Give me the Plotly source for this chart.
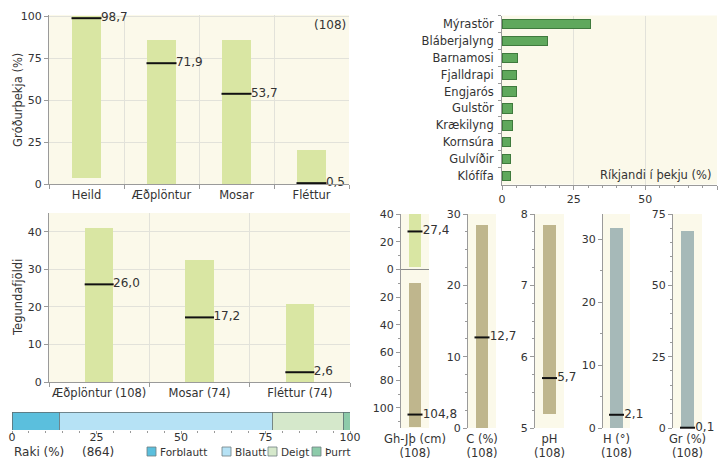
import plotly.graph_objects as go

W, H = 723, 461

# ---------------- data ----------------
cover_cats = ["Heild", "Æðplöntur", "Mosar", "Fléttur"]
cover_low = [3.5, 0, 0, 0]
cover_high = [100, 86, 86, 20]
cover_median = [98.7, 71.9, 53.7, 0.5]
cover_n = 108

dom_species = ["Mýrastör", "Bláberjalyng", "Barnamosi", "Fjalldrapi", "Engjarós",
               "Gulstör", "Krækilyng", "Kornsúra", "Gulvíðir", "Klófífa"]
dom_values = [31.0, 15.8, 5.3, 5.0, 5.0, 3.8, 3.6, 3.0, 3.0, 2.8]

rich_cats = ["Æðplöntur (108)", "Mosar (74)", "Fléttur (74)"]
rich_low = [0, 0, 0]
rich_high = [41.0, 32.5, 20.8]
rich_median = [26.0, 17.2, 2.6]

moist_cats = ["Forblautt", "Blautt", "Deigt", "Þurrt"]
moist_values = [14, 63, 21, 2]
moist_n = 864

gh_low, gh_high, gh_median = 2, 40, 27.4          # gróðurhæð (cm, above ground)
jth_low, jth_high, jth_median = 10, 114, 104.8    # jarðvegsþykkt (cm, below ground)
soil_labels = ["Gh-Jþ (cm)", "C (%)", "pH", "H (°)", "Gr (%)"]
soil_n = [108, 108, 108, 108, 108]
soil_low = [None, 0, 5.2, 0, 0]
soil_high = [None, 28.4, 7.85, 31.7, 69.0]
soil_median = [None, 12.7, 5.7, 2.1, 0.1]

# ---------------- styling ----------------
CREAM = "#FBF9EA"
LGREEN = "#D9E6A3"
KHAKI = "#BFB68D"
GREYBLUE = "#A6B9B8"
DGREEN = "#5FA85C"
MOIST_COLORS = ["#5BBFDD", "#B6E2F5", "#D5E8CB", "#8DCBAA"]
GRID = "#E2E2DA"
AXL = "#9A9A9A"
TXT = "#333333"
FONT = "DejaVu Sans"
LINE_K = 1.4  # plotly draws 'line-ew' markers 1.4 * size long


def fmt(v):
    return f"{v:.1f}".replace(".", ",")


def xd(a, b):
    return [a / W, b / W]


def yd(top, bottom):
    return [1 - bottom / H, 1 - top / H]


fig = go.Figure()
layout = dict(
    width=W, height=H, margin=dict(l=0, r=0, t=0, b=0, pad=0, autoexpand=False),
    paper_bgcolor="white", plot_bgcolor=CREAM, showlegend=False,
    barmode="stack", font=dict(family=FONT, size=11, color=TXT),
    annotations=[], shapes=[],
)

num_tick = dict(family=FONT, size=11, color=TXT)
cat_tick = dict(family=FONT, size=11.5, color=TXT)
lab_font = dict(family=FONT, size=12, color=TXT)


def median_marker(px):
    return dict(symbol="line-ew", size=px / LINE_K, line=dict(width=2, color="#111"))


# ---------- panel 1: cover ----------
fig.add_trace(go.Bar(x=cover_cats, y=[h - l for h, l in zip(cover_high, cover_low)],
                     base=cover_low, width=0.39, marker=dict(color=LGREEN, line=dict(width=0)),
                     xaxis="x", yaxis="y", hoverinfo="skip"))
fig.add_trace(go.Scatter(x=cover_cats, y=cover_median, mode="markers+text",
                         marker=median_marker(30),
                         text=[fmt(v) for v in cover_median], textposition="middle right",
                         textfont=lab_font, cliponaxis=False,
                         xaxis="x", yaxis="y"))
layout["xaxis"] = dict(domain=xd(49, 349), anchor="y", type="category", range=[-0.5, 3.5],
                       tickson="boundaries", ticks="outside", ticklen=4, tickcolor=AXL,
                       showgrid=True, gridcolor=GRID, showline=True, linecolor=AXL,
                       tickfont=cat_tick, tickangle=0, automargin=False)
layout["yaxis"] = dict(domain=yd(15, 184), anchor="x", range=[0, 100.6], tickvals=[0, 25, 50, 75, 100],
                       ticks="outside", ticklen=4, tickcolor=AXL, showline=True, linecolor=AXL,
                       showgrid=True, gridcolor=GRID, zeroline=False, tickfont=num_tick,
                       automargin=False)
layout["annotations"].append(dict(text=f"({cover_n})", x=348 / W, y=1 - 25 / H, xref="paper", yref="paper",
                                  xanchor="right", yanchor="middle", showarrow=False, font=lab_font))
layout["annotations"].append(dict(text="Gróðurþekja (%)", x=18 / W, y=1 - 100 / H, xref="paper", yref="paper",
                                  xanchor="center", yanchor="middle",
                                  textangle=-90, showarrow=False, font=cat_tick))

# ---------- panel 2: dominant species ----------
fig.add_trace(go.Bar(y=dom_species, x=dom_values, orientation="h", width=0.55,
                     marker=dict(color=DGREEN, line=dict(width=1, color="#3F7A3D")),
                     xaxis="x2", yaxis="y2", hoverinfo="skip"))
layout["xaxis2"] = dict(domain=xd(502, 717), anchor="y2", range=[0, 75], tickvals=[0, 25, 50, 75],
                        ticks="outside", ticklen=4, tickcolor=AXL, showline=True, linecolor=AXL,
                        showgrid=True, gridcolor=GRID, zeroline=False, tickfont=num_tick,
                        minor=dict(dtick=5, ticklen=2, tickcolor=AXL, showgrid=False),
                        automargin=False)
layout["yaxis2"] = dict(domain=yd(15.5, 184.5), anchor="x2", type="category", autorange="reversed",
                        tickson="boundaries", ticks="outside", ticklen=3, tickcolor=AXL,
                        showline=True, linecolor=AXL, showgrid=False, tickfont=cat_tick,
                        ticklabelstandoff=5, automargin=False)
layout["annotations"].append(dict(text="Ríkjandi í þekju (%)", x=713 / W, y=1 - 175 / H, xref="paper",
                                  yref="paper", xanchor="right", yanchor="middle", showarrow=False,
                                  font=cat_tick))

# ---------- panel 3: species richness ----------
fig.add_trace(go.Bar(x=rich_cats, y=[h - l for h, l in zip(rich_high, rich_low)], base=rich_low,
                     width=0.28, marker=dict(color=LGREEN, line=dict(width=0)),
                     xaxis="x3", yaxis="y3", hoverinfo="skip"))
fig.add_trace(go.Scatter(x=rich_cats, y=rich_median, mode="markers+text",
                         marker=median_marker(29),
                         text=[fmt(v) for v in rich_median], textposition="middle right",
                         textfont=lab_font, cliponaxis=False,
                         xaxis="x3", yaxis="y3"))
layout["xaxis3"] = dict(domain=xd(49, 350), anchor="y3", type="category", range=[-0.5, 2.5],
                        tickson="boundaries", ticks="outside", ticklen=4, tickcolor=AXL,
                        showgrid=True, gridcolor=GRID, showline=True, linecolor=AXL,
                        tickfont=cat_tick, tickangle=0, automargin=False)
layout["yaxis3"] = dict(domain=yd(213, 382), anchor="x3", range=[0, 45], tickvals=[0, 10, 20, 30, 40],
                        ticks="outside", ticklen=4, tickcolor=AXL, showline=True, linecolor=AXL,
                        showgrid=True, gridcolor=GRID, zeroline=False, tickfont=num_tick,
                        automargin=False)
layout["annotations"].append(dict(text="Tegundafjöldi", x=18 / W, y=1 - 298 / H, xref="paper", yref="paper",
                                  xanchor="center", yanchor="middle",
                                  textangle=-90, showarrow=False, font=cat_tick))

# ---------- panel 4: moisture ----------
for cat, val, col in zip(moist_cats, moist_values, MOIST_COLORS):
    fig.add_trace(go.Bar(y=["Raki"], x=[val], orientation="h", width=1, name=cat,
                         marker=dict(color=col, line=dict(width=0.8, color="#5E6E72")),
                         xaxis="x4", yaxis="y4", hoverinfo="skip"))
layout["xaxis4"] = dict(domain=xd(12, 350), anchor="y4", range=[0, 100], tickvals=[0, 25, 50, 75, 100],
                        ticks="outside", ticklen=3, tickcolor=AXL, showline=False, showgrid=False,
                        zeroline=False, tickfont=num_tick, ticklabelstandoff=-6,
                        minor=dict(dtick=5, ticklen=2, tickcolor=AXL), automargin=False)
layout["yaxis4"] = dict(domain=yd(412, 430), anchor="x4", type="category", range=[-0.5, 0.5],
                        showticklabels=False, ticks="", showgrid=False, showline=False,
                        automargin=False)
layout["annotations"].append(dict(text="Raki (%)", x=12 / W, y=1 - 452 / H, xref="paper", yref="paper",
                                  xanchor="left", yanchor="middle", showarrow=False, font=lab_font))
layout["annotations"].append(dict(text=f"({moist_n})", x=80 / W, y=1 - 452 / H, xref="paper", yref="paper",
                                  xanchor="left", yanchor="middle", showarrow=False, font=lab_font))
legend_x = [147, 222, 268, 312]
for cat, col, lx in zip(moist_cats, MOIST_COLORS, legend_x):
    layout["shapes"].append(dict(type="rect", xref="paper", yref="paper",
                                 x0=lx / W, x1=(lx + 9) / W, y0=1 - 456 / H, y1=1 - 447 / H,
                                 fillcolor=col, line=dict(color="#6E7E80", width=0.8)))
    layout["annotations"].append(dict(text=cat, x=(lx + 11) / W, y=1 - 452 / H, xref="paper", yref="paper",
                                      xanchor="left", yanchor="middle", showarrow=False,
                                      font=dict(family=FONT, size=10.5, color=TXT)))

# ---------- panels 5-9: soil / structure ----------
panel_x = [(401, 429), (468, 496), (535, 564), (603, 630), (673, 702)]
panel_cfg = [
    dict(range=[-114.5, 40], tickvals=[40, 20, 0, -20, -40, -60, -80, -100],
         ticktext=["40", "20", "0", "20", "40", "60", "80", "100"], minor=10, color=None),
    dict(range=[0, 30], tickvals=[0, 10, 20, 30], ticktext=None, minor=2.5, color=KHAKI),
    dict(range=[5, 8], tickvals=[5, 6, 7, 8], ticktext=None, minor=0.25, color=KHAKI),
    dict(range=[0, 34], tickvals=[0, 10, 20, 30], ticktext=None, minor=5, color=GREYBLUE),
    dict(range=[0, 75], tickvals=[0, 25, 50, 75], ticktext=None, minor=5, color=GREYBLUE),
]
for i, (lab, n, lo, hi, med, (xa, xb), cfg) in enumerate(
        zip(soil_labels, soil_n, soil_low, soil_high, soil_median, panel_x, panel_cfg)):
    k = i + 5
    xn, yn = f"x{k}", f"y{k}"
    if i == 0:
        fig.add_trace(go.Bar(x=[0], y=[gh_high - gh_low], base=[gh_low], width=0.45,
                             marker=dict(color=LGREEN, line=dict(width=0)), xaxis=xn, yaxis=yn,
                             hoverinfo="skip"))
        fig.add_trace(go.Bar(x=[0], y=[-(jth_high - jth_low)], base=[-jth_low], width=0.45,
                             marker=dict(color=KHAKI, line=dict(width=0)), xaxis=xn, yaxis=yn,
                             hoverinfo="skip"))
        fig.add_trace(go.Scatter(x=[0, 0], y=[gh_median, -jth_median], mode="markers+text",
                                 marker=median_marker(15),
                                 text=[fmt(gh_median), fmt(jth_median)], textposition="middle right",
                                 textfont=lab_font, cliponaxis=False,
                                 xaxis=xn, yaxis=yn))
    else:
        fig.add_trace(go.Bar(x=[0], y=[hi - lo], base=[lo], width=0.45,
                             marker=dict(color=cfg["color"], line=dict(width=0)), xaxis=xn, yaxis=yn,
                             hoverinfo="skip"))
        fig.add_trace(go.Scatter(x=[0], y=[med], mode="markers+text",
                                 marker=median_marker(15),
                                 text=[fmt(med)], textposition="middle right",
                                 textfont=lab_font, cliponaxis=False,
                                 xaxis=xn, yaxis=yn))
    layout[f"xaxis{k}"] = dict(domain=xd(xa, xb), anchor=yn, range=[-0.5, 0.5], tickvals=[0],
                               ticktext=[f"{lab}<br>({n})"], ticks="", showgrid=False, showline=False,
                               zeroline=False, tickfont=cat_tick, tickangle=0, automargin=False,
                               ticklabelstandoff=2)
    ya = dict(domain=yd(214, 428), anchor=xn, range=cfg["range"], tickvals=cfg["tickvals"],
              ticks="outside", ticklen=4, tickcolor=AXL, showline=True, linecolor=AXL,
              showgrid=False, tickfont=num_tick, automargin=False,
              minor=dict(dtick=cfg["minor"], ticklen=2, tickcolor=AXL))
    if cfg["ticktext"]:
        ya["ticktext"] = cfg["ticktext"]
        ya.update(zeroline=True, zerolinecolor="#8A8A8A", zerolinewidth=1.2)
    else:
        ya["zeroline"] = False
    layout[f"yaxis{k}"] = ya

fig.update_layout(**layout)
fig.write_html("out.html", config={"displayModeBar": False},
               post_script="document.body.style.margin='0';document.body.style.overflow='hidden';")
